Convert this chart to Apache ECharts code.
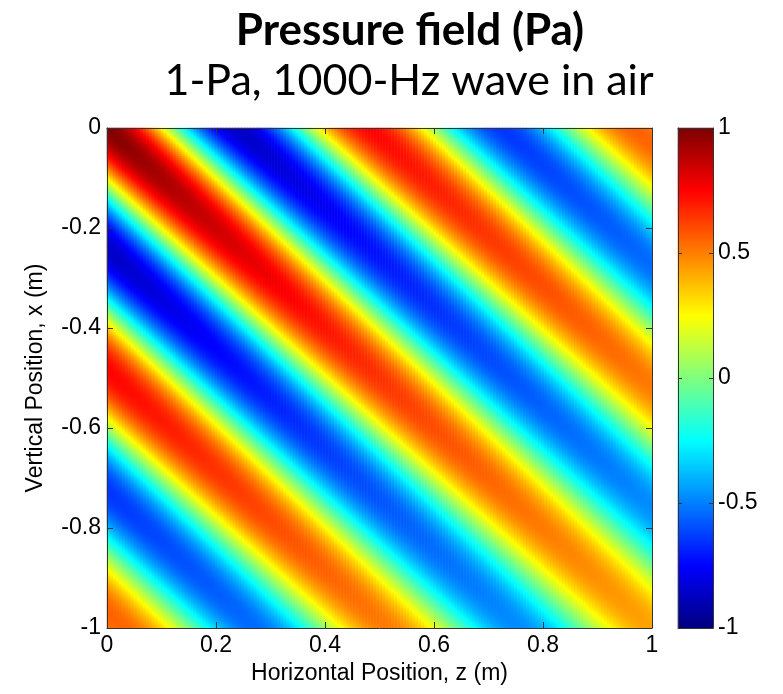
<!DOCTYPE html>
<html><head><meta charset="utf-8">
<script src="https://cdn.jsdelivr.net/npm/echarts@6/dist/echarts.min.js"></script>
<style>html,body{margin:0;padding:0;background:#fff}#c{width:783px;height:694px}</style>
</head><body><div id="c"></div>
<script>
// ---- text ----
const titleText = 'Pressure field (Pa)';
const subtitleText = '1-Pa, 1000-Hz wave in air';
const xAxisName = 'Horizontal Position, z (m)';
const yAxisName = 'Vertical Position, x (m)';
// ---- axis ranges / ticks ----
const zRange = [0, 1];
const xRange = [-1, 0];
const zTickStep = [0.2];
const xTickStep = [0.2];
const colorRange = [-1, 1];
const colorTickStep = [0.5];
// ---- wave parameters ----
const waveAmplitudePa = [1];        // peak at the origin corner
const waveFrequencyHz = [1000];
const soundSpeedMs = [343];         // air
const waveAngleDeg = [45];          // fronts run top-left -> bottom-right
const amplitudeDecayPerM = [0.6];   // colours fade away from the origin corner
// ---- jet colormap ----
const jetColors = ['#00007F','#0000FF','#007FFF','#00FFFF','#7FFF7F','#FFFF00','#FF7F00','#FF0000','#7F0000'];

// ---- sampling of the field ----
const NZ = 182, NX = 250, NC = 250;
const zCats = [], xCats = [], heat = [];
for (let i = 0; i < NZ; i++) zCats.push(zRange[0] + (i + 0.5) * (zRange[1] - zRange[0]) / NZ);
for (let j = 0; j < NX; j++) xCats.push(xRange[0] + (j + 0.5) * (xRange[1] - xRange[0]) / NX);
const k = 2 * Math.PI * waveFrequencyHz[0] / soundSpeedMs[0];
const th = waveAngleDeg[0] * Math.PI / 180;
for (let i = 0; i < NZ; i++) {
  for (let j = 0; j < NX; j++) {
    const z = zCats[i], x = xCats[j];
    const r = Math.sqrt(z * z + x * x);
    const p = waveAmplitudePa[0] * Math.exp(-amplitudeDecayPerM[0] * r) * Math.cos(k * (z * Math.cos(th) + x * Math.sin(th)));
    heat.push([i, j, p]);
  }
}
const cCats = [], cbar = [];
for (let j = 0; j < NC; j++) {
  const v = colorRange[0] + (j + 0.5) * (colorRange[1] - colorRange[0]) / NC;
  cCats.push(v);
  cbar.push([0, j, v]);
}

const FONT = 'Liberation Sans';
const lblStyle = {fontFamily: FONT, fontSize: 23, color: '#000'};
const lineStyle = {color: '#333', width: 1};
const G_LEFT = 107, G_TOP = 128, G_W = 545, G_H = 500;
const CB_LEFT = 678, CB_W = 35;
const noZero = {onZero: false, lineStyle};

const chart = echarts.init(document.getElementById('c'), null, {renderer: 'canvas'});
chart.setOption({
  animation: false,
  backgroundColor: '#fff',
  graphic: [
    {type: 'text', x: 410, y: 31, style: {text: titleText, font: 'bold 44px Lato', fill: '#000', align: 'center', verticalAlign: 'middle'}},
    {type: 'text', x: 409, y: 81, style: {text: subtitleText, font: '43px Lato', fill: '#000', align: 'center', verticalAlign: 'middle'}}
  ],
  grid: [
    {left: G_LEFT, top: G_TOP, width: G_W, height: G_H},
    {left: CB_LEFT, top: G_TOP, width: CB_W, height: G_H}
  ],
  visualMap: {type: 'continuous', show: false, min: colorRange[0], max: colorRange[1], dimension: 2, seriesIndex: [0, 1], inRange: {color: jetColors}},
  xAxis: [
    {type: 'category', gridIndex: 0, data: zCats, show: false},
    {type: 'value', gridIndex: 0, min: zRange[0], max: zRange[1], interval: zTickStep[0], position: 'bottom', z: 10,
      axisLine: noZero, axisTick: {inside: true, length: 6, lineStyle}, splitLine: {show: false},
      axisLabel: Object.assign({margin: 6}, lblStyle),
      name: xAxisName, nameLocation: 'middle', nameGap: 32, nameTextStyle: lblStyle},
    {type: 'value', gridIndex: 0, min: zRange[0], max: zRange[1], interval: zTickStep[0], position: 'top', z: 10,
      axisLine: noZero, axisTick: {inside: true, length: 6, lineStyle}, splitLine: {show: false}, axisLabel: {show: false}},
    {type: 'category', gridIndex: 1, data: [0], show: false},
    {type: 'value', gridIndex: 1, min: 0, max: 1, position: 'top', z: 10,
      axisLine: noZero, axisTick: {show: false}, splitLine: {show: false}, axisLabel: {show: false}},
    {type: 'value', gridIndex: 1, min: 0, max: 1, position: 'bottom', z: 10,
      axisLine: noZero, axisTick: {show: false}, splitLine: {show: false}, axisLabel: {show: false}}
  ],
  yAxis: [
    {type: 'category', gridIndex: 0, data: xCats, show: false},
    {type: 'value', gridIndex: 0, min: xRange[0], max: xRange[1], interval: xTickStep[0], position: 'left', z: 10,
      axisLine: noZero, axisTick: {inside: true, length: 6, lineStyle}, splitLine: {show: false},
      axisLabel: Object.assign({margin: 6}, lblStyle),
      name: yAxisName, nameLocation: 'middle', nameGap: 60, nameTextStyle: lblStyle},
    {type: 'value', gridIndex: 0, min: xRange[0], max: xRange[1], interval: xTickStep[0], position: 'right', z: 10,
      axisLine: noZero, axisTick: {inside: true, length: 6, lineStyle}, splitLine: {show: false}, axisLabel: {show: false}},
    {type: 'category', gridIndex: 1, data: cCats, show: false},
    {type: 'value', gridIndex: 1, min: colorRange[0], max: colorRange[1], interval: colorTickStep[0], position: 'right', z: 10,
      axisLine: noZero, axisTick: {inside: true, length: 4, lineStyle}, splitLine: {show: false},
      axisLabel: Object.assign({margin: 5}, lblStyle)},
    {type: 'value', gridIndex: 1, min: colorRange[0], max: colorRange[1], interval: colorTickStep[0], position: 'left', z: 10,
      axisLine: noZero, axisTick: {inside: true, length: 4, lineStyle}, splitLine: {show: false}, axisLabel: {show: false}}
  ],
  series: [
    {type: 'heatmap', xAxisIndex: 0, yAxisIndex: 0, data: heat, progressive: 0, emphasis: {disabled: true}, silent: true},
    {type: 'heatmap', xAxisIndex: 3, yAxisIndex: 3, data: cbar, progressive: 0, emphasis: {disabled: true}, silent: true}
  ]
});
</script></body></html>
